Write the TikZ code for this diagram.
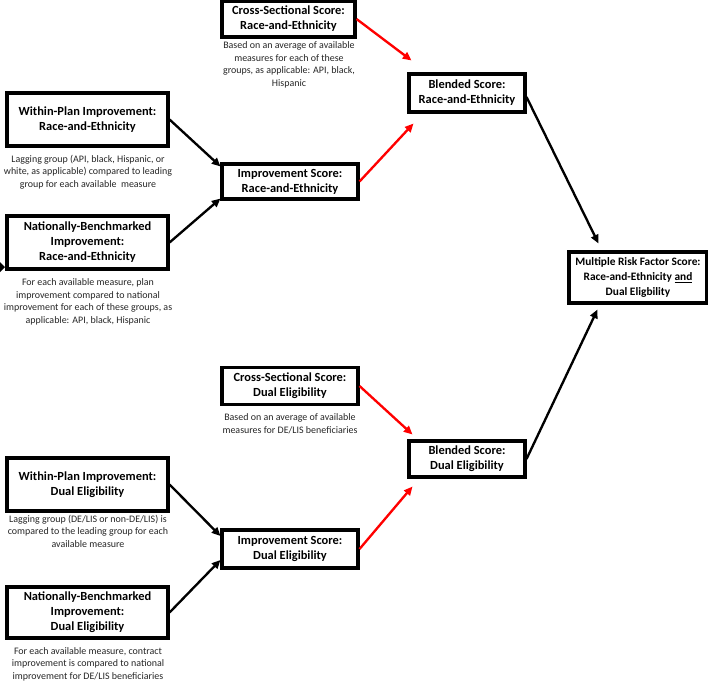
\documentclass[tikz,border=0pt]{standalone}
\usepackage{fontspec}
\setmainfont{Carlito}
\usepackage{tikz}
\usetikzlibrary{arrows.meta,positioning,calc}
\tikzset{
    scorebox/.style={draw, line width=2.6pt, align=center, inner sep=0pt,
        font=\bfseries\fontsize{10.6}{12.8}\selectfont},
    bigbox/.style={scorebox, minimum width=4.83cm, minimum height=1.59cm},
    midbox/.style={scorebox, minimum width=4.08cm, minimum height=1.08cm},
    smallbox/.style={scorebox, minimum width=3.48cm, minimum height=1.1cm},
    notetext/.style={align=center, inner sep=0pt, text=black!85,
        font=\fontsize{8.5}{10.7}\selectfont},
    blackarrow/.style={-{Triangle[length=2.6mm,width=2.3mm]}, line width=2pt, black},
    redarrow/.style={-{Triangle[length=2.6mm,width=2.3mm]}, line width=2pt, red}
}

\begin{document}
\begin{tikzpicture}[x=0.03cm,y=-0.03cm]
    \useasboundingbox (0,0) rectangle (708,681);

    % Race-and-Ethnicity boxes
    \node[midbox,minimum width=3.99cm] (crossRE) at (288.5,19) {Cross-Sectional Score:\\Race-and-Ethnicity};
    \node[notetext] (crossREnote) at (289,65) {Based on an average of available\\measures for each of these\\groups, as applicable: API, black,\\Hispanic};
    \node[smallbox,minimum height=1.14cm] (blendRE) at (467,93) {Blended Score:\\Race-and-Ethnicity};
    \node[bigbox] (withinRE) at (87.5,119.5) {Within-Plan Improvement:\\Race-and-Ethnicity};
    \node[notetext] (withinREnote) at (88,172) {Lagging group (API, black, Hispanic, or\\white, as applicable) compared to leading\\group for each available\ \ measure};
    \node[midbox,minimum height=1.05cm] (imprRE) at (290,181.5) {Improvement Score:\\Race-and-Ethnicity};
    \node[bigbox] (natRE) at (87.5,242.5) {Nationally-Benchmarked\\Improvement:\\Race-and-Ethnicity};
    \node[notetext] (natREnote) at (88,302) {For each available measure, plan\\improvement compared to national\\improvement for each of these groups, as\\applicable: API, black, Hispanic};

    % Combined score
    \node[scorebox,minimum width=4.14cm,minimum height=1.53cm,font=\bfseries\fontsize{9.7}{12.8}\selectfont] (multi) at (638,277.5) {Multiple Risk Factor Score:\\Race-and-Ethnicity \underline{and}\\Dual Eligbility};

    % Dual Eligibility boxes
    \node[midbox,minimum height=1.11cm] (crossDE) at (290,386) {Cross-Sectional Score:\\Dual Eligibility};
    \node[notetext] (crossDEnote) at (290,424) {Based on an average of available\\measures for DE/LIS beneficiaries};
    \node[smallbox,minimum height=1.08cm] (blendDE) at (467,459) {Blended Score:\\Dual Eligibility};
    \node[bigbox] (withinDE) at (87.5,484.5) {Within-Plan Improvement:\\Dual Eligibility};
    \node[notetext] (withinDEnote) at (88,531) {Lagging group (DE/LIS or non-DE/LIS) is\\compared to the leading group for each\\available measure};
    \node[midbox,minimum height=1.14cm] (imprDE) at (290,549) {Improvement Score:\\Dual Eligibility};
    \node[bigbox,minimum height=1.53cm] (natDE) at (87.5,612.5) {Nationally-Benchmarked\\Improvement:\\Dual Eligibility};
    \node[notetext] (natDEnote) at (88,664) {For each available measure, contract\\improvement is compared to national\\improvement for DE/LIS beneficiaries};

    % Arrows into the improvement scores
    \draw[blackarrow] (withinRE.east) -- ($(imprRE.north west)+(0,4)$);
    \draw[blackarrow] (natRE.east) -- ($(imprRE.south west)+(0,-2)$);
    \draw[blackarrow] (withinDE.east) -- ($(imprDE.west)+(0,-13)$);
    \draw[blackarrow] (natDE.east) -- ($(imprDE.west)+(0,11)$);

    % Arrows into the blended scores
    \draw[redarrow] (crossRE.east) -- ($(blendRE.north west)+(4,-12)$);
    \draw[redarrow] (imprRE.east) -- ($(blendRE.south west)+(6,10)$);
    \draw[redarrow] (crossDE.east) -- ($(blendDE.north west)+(5,-5)$);
    \draw[redarrow] (imprDE.east) -- ($(blendDE.south west)+(5,8)$);

    % Arrows into the combined score
    \draw[blackarrow] ($(blendRE.east)+(0,4)$) -- ($(multi.north west)+(31,-7)$);
    \draw[blackarrow] (blendDE.east) -- ($(multi.south west)+(30,5)$);

    % Stray arrow tip at the left edge
    \fill (0,262) -- (5,267) -- (0,272) -- cycle;
\end{tikzpicture}
\end{document}
